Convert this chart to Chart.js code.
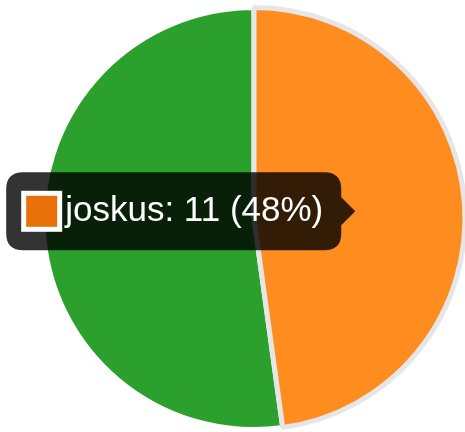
<!DOCTYPE html>
<html>
<head>
<meta charset="utf-8">
<script src="https://cdn.jsdelivr.net/npm/chart.js@4/dist/chart.umd.min.js"></script>
<style>
  html, body { margin: 0; padding: 0; background: #fff; overflow: hidden; }
  #wrap { position: relative; width: 508px; height: 432px; }
</style>
</head>
<body>
<div id="wrap"><canvas id="pieChart"></canvas></div>
<script>
const categories = ["joskus", "usein"];
const counts = [11, 12];
const sliceColors = ["#e8710a", "#2ca02c"];
const hoverColors = ["#ff8c1f", "#2ca02c"];

const total = counts.reduce((a, b) => a + b, 0);

const ctx = document.getElementById("pieChart").getContext("2d");
const pieChart = new Chart(ctx, {
  type: "pie",
  data: {
    labels: categories,
    datasets: [{
      data: counts,
      backgroundColor: sliceColors,
      hoverBackgroundColor: hoverColors,
      borderColor: "#ffffff",
      hoverBorderColor: "#e6e6e6",
      borderWidth: 5,
      hoverBorderWidth: 5,
      hoverOffset: 0
    }]
  },
  options: {
    responsive: true,
    maintainAspectRatio: false,
    animation: false,
    layout: { padding: { top: 5 } },
    plugins: {
      legend: { display: false },
      tooltip: {
        backgroundColor: "rgba(0,0,0,0.8)",
        bodyFont: { family: "'Liberation Sans', Arial, sans-serif", size: 35 },
        bodyColor: "#fff",
        padding: { top: 18, bottom: 18, left: 19, right: 18 },
        cornerRadius: 17,
        caretSize: 14,
        caretPadding: 4,
        boxWidth: 33,
        boxHeight: 33,
        boxPadding: 5,
        callbacks: {
          title: () => "",
          label: function (item) {
            const pct = Math.round(item.raw / total * 100);
            return `${item.label}: ${item.raw} (${pct}%)`;
          },
          labelColor: function (item) {
            return {
              borderColor: "#ffffff",
              backgroundColor: sliceColors[item.dataIndex],
              borderWidth: 8,
              borderRadius: 0
            };
          }
        }
      }
    }
  }
});

// show the tooltip on the "joskus" slice
const active = [{ datasetIndex: 0, index: 0 }];
pieChart.setActiveElements(active);
pieChart.tooltip.setActiveElements(active, { x: 0, y: 0 });
pieChart.update("none");
</script>
</body>
</html>
